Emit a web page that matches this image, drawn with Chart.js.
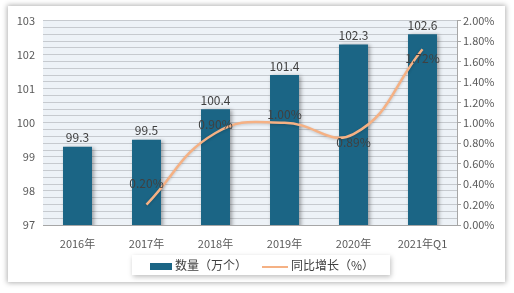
<!DOCTYPE html>
<html>
<head>
<meta charset="utf-8">
<script src="https://cdn.jsdelivr.net/npm/chart.js@4/dist/chart.umd.min.js"></script>
<style>
  html, body { margin: 0; padding: 0; background: #fff; }
  body { width: 514px; height: 293px; position: relative; overflow: hidden; font-family: "Noto Sans CJK SC", sans-serif; }
  #card { position: absolute; left: 8px; top: 6px; width: 497px; height: 276px; background: #fff; box-shadow: 0 0 5px 1px rgba(0,0,0,0.3); }
  #chart { position: absolute; left: 0; top: 0; }
  #legend { position: absolute; left: 124px; top: 249px; width: 258px; height: 20px; background: #fff;
            box-shadow: 1px 2px 5px rgba(0,0,0,0.25); font-size: 12px; color: #404040; }
  .item { position: absolute; top: 1px; line-height: 18px; white-space: nowrap; }
  .swatch { display: inline-block; vertical-align: middle; margin-right: 3px; }
</style>
</head>
<body>
<div id="card">
  <canvas id="chart" width="497" height="276"></canvas>
  <div id="legend">
    <div class="item" style="left:18px"><span class="swatch" style="width:22px;height:7px;background:#1b6585"></span>数量（万个）</div>
    <div class="item" style="left:130px"><span class="swatch" style="width:26px;height:2px;background:#f5b184"></span>同比增长（%）</div>
  </div>
</div>
<script>
const categories = ['2016年', '2017年', '2018年', '2019年', '2020年', '2021年Q1'];
const quantity = [99.3, 99.5, 100.4, 101.4, 102.3, 102.6];
const growth = [null, 0.20, 0.90, 1.00, 0.89, 1.72];

const barColor = '#1b6585';
const lineColor = '#f5b184';

// plot background
const plotBg = {
  id: 'plotBg',
  beforeDraw(chart) {
    const { ctx, chartArea: a } = chart;
    ctx.save();
    ctx.fillStyle = '#edf2f7';
    ctx.fillRect(a.left, a.top, a.right - a.left, a.bottom - a.top);
    ctx.restore();
  }
};

// soft shadow on bars and line
const shadows = {
  id: 'shadows',
  beforeDatasetDraw(chart, args) {
    const ctx = chart.ctx;
    ctx.save();
    if (args.meta.type === 'bar') {
      ctx.shadowColor = 'rgba(0,0,0,0.35)';
      ctx.shadowBlur = 4;
      ctx.shadowOffsetX = 2;
      ctx.shadowOffsetY = 1;
    } else {
      ctx.shadowColor = 'rgba(0,0,0,0.2)';
      ctx.shadowBlur = 3;
      ctx.shadowOffsetY = 1;
    }
  },
  afterDatasetDraw(chart) {
    chart.ctx.restore();
  }
};

// value labels (dataset 0 = line, dataset 1 = bars)
const lineLabelDy = [0, -21, -9, -8, 8, 9];
const valueLabels = {
  id: 'valueLabels',
  afterDatasetsDraw(chart) {
    const ctx = chart.ctx;
    ctx.save();
    ctx.font = '12px "Noto Sans CJK SC", sans-serif';
    ctx.fillStyle = '#404040';
    ctx.textAlign = 'center';

    chart.getDatasetMeta(1).data.forEach((bar, i) => {
      ctx.textBaseline = 'bottom';
      ctx.fillText(quantity[i].toFixed(1), bar.x, bar.y - 3);
    });

    chart.getDatasetMeta(0).data.forEach((pt, i) => {
      if (growth[i] === null) return;
      ctx.textBaseline = 'middle';
      ctx.fillText(growth[i].toFixed(2) + '%', pt.x, pt.y + lineLabelDy[i]);
    });
    ctx.restore();
  }
};

new Chart(document.getElementById('chart'), {
  data: {
    labels: categories,
    datasets: [
      {
        type: 'line',
        label: '同比增长（%）',
        data: growth,
        yAxisID: 'y1',
        borderColor: lineColor,
        borderWidth: 2.5,
        pointRadius: 0,
        tension: 0.45,
        order: 0
      },
      {
        type: 'bar',
        label: '数量（万个）',
        data: quantity,
        yAxisID: 'y',
        backgroundColor: barColor,
        barPercentage: 0.42,
        categoryPercentage: 1,
        order: 1
      }
    ]
  },
  options: {
    responsive: false,
    animation: false,
    layout: { padding: { top: 14, bottom: 31, left: 0, right: 0 } },
    plugins: { legend: { display: false }, tooltip: { enabled: false } },
    scales: {
      x: {
        grid: { display: false },
        border: { color: '#a6a6a6' },
        ticks: { color: '#595959', font: { size: 11, family: '"Noto Sans CJK SC", sans-serif' }, padding: 4 },
        afterFit(s) { s.height = 26; }
      },
      y: {
        position: 'left',
        min: 97,
        max: 103,
        grid: { color: '#c6cacf', drawTicks: false },
        border: { display: false },
        ticks: {
          stepSize: 0.2,
          autoSkip: false,
          padding: 8,
          color: '#595959',
          font: { size: 11, family: '"Noto Sans CJK SC", sans-serif' },
          callback: v => Math.abs(v - Math.round(v)) < 1e-6 ? String(Math.round(v)) : ''
        },
        afterFit(s) { s.width = 35; }
      },
      y1: {
        position: 'right',
        min: 0,
        max: 2,
        grid: { drawOnChartArea: false, color: '#a6a6a6', tickLength: 4 },
        border: { color: '#a6a6a6' },
        ticks: {
          stepSize: 0.2,
          autoSkip: false,
          padding: 2,
          color: '#595959',
          font: { size: 11, family: '"Noto Sans CJK SC", sans-serif' },
          callback: v => v.toFixed(2) + '%'
        },
        afterFit(s) { s.width = 48; }
      }
    }
  },
  plugins: [plotBg, shadows, valueLabels]
});
</script>
</body>
</html>
